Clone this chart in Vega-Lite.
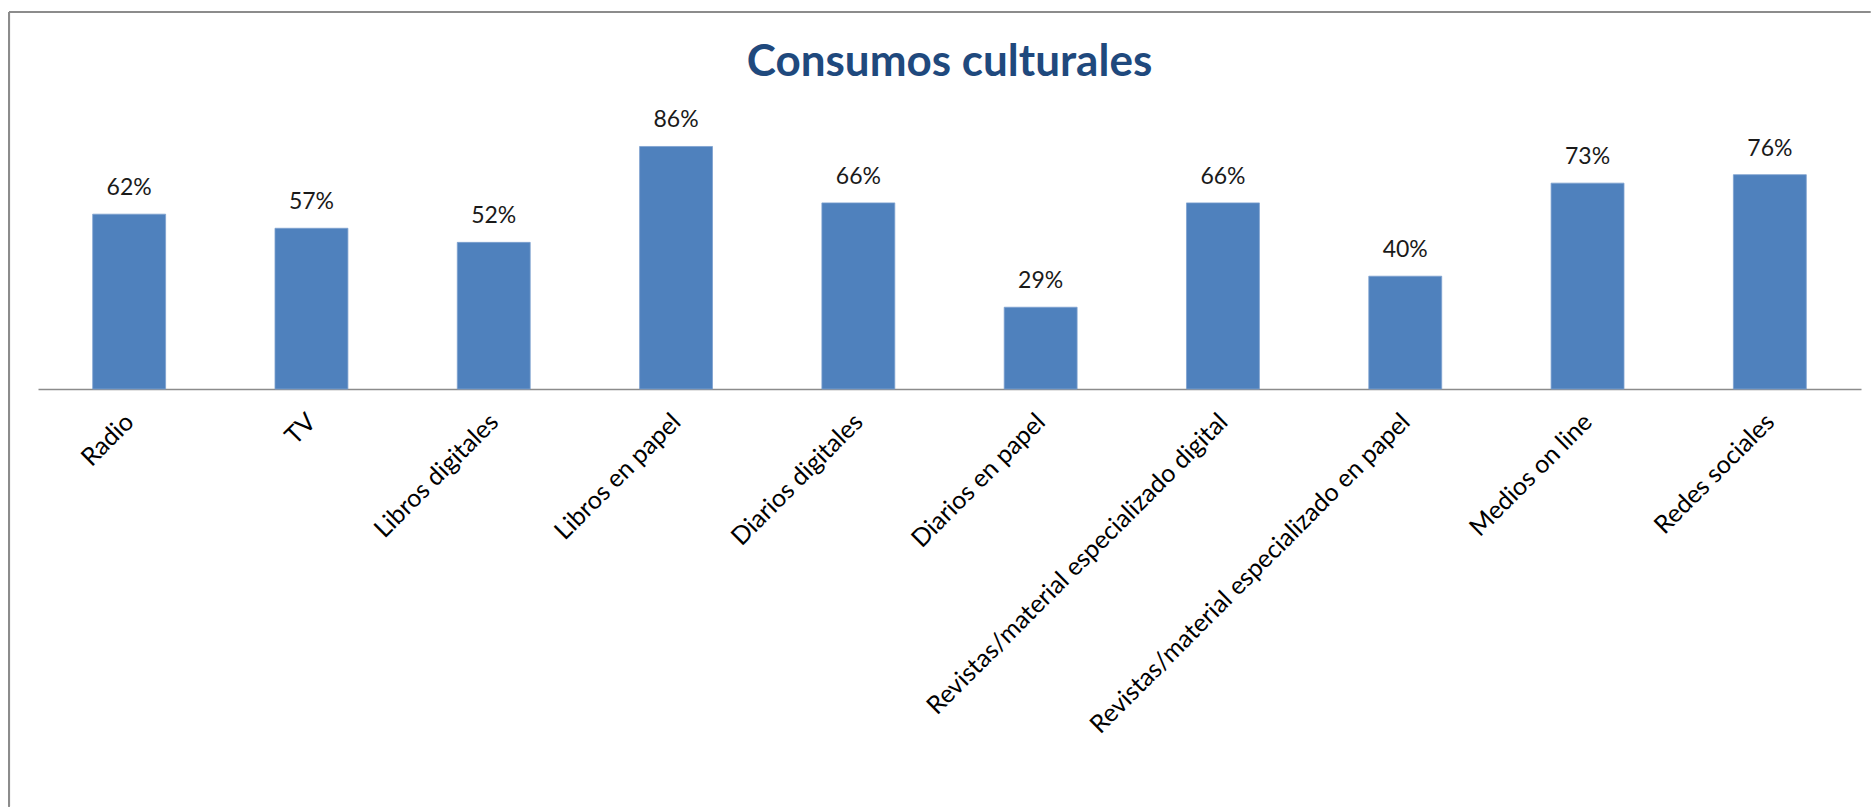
{
  "$schema": "https://vega.github.io/schema/vega-lite/v6.json",
  "width": 1823,
  "height": 282,
  "padding": {"left": 8, "top": 10, "right": 0, "bottom": 0},
  "background": "white",
  "config": {"view": {"stroke": null}},
  "title": {
    "text": "Consumos culturales",
    "font": "Lato",
    "fontWeight": "bold",
    "fontSize": 44,
    "color": "#1F497D",
    "anchor": "middle",
    "baseline": "alphabetic",
    "offset": -109
  },
  "data": {
    "values": [
      {"categoria": "Radio", "valor": 0.62},
      {"categoria": "TV", "valor": 0.57},
      {"categoria": "Libros digitales", "valor": 0.52},
      {"categoria": "Libros en papel", "valor": 0.86},
      {"categoria": "Diarios digitales", "valor": 0.66},
      {"categoria": "Diarios en papel", "valor": 0.29},
      {"categoria": "Revistas/material especializado digital", "valor": 0.66},
      {"categoria": "Revistas/material especializado en papel", "valor": 0.40},
      {"categoria": "Medios on line", "valor": 0.73},
      {"categoria": "Redes sociales", "valor": 0.76}
    ]
  },
  "layer": [
    {
      "encoding": {
        "x": {
          "field": "categoria",
          "type": "nominal",
          "sort": null,
          "scale": {"paddingInner": 0.6, "paddingOuter": 0.3},
          "axis": {
            "title": null,
            "ticks": false,
            "domainColor": "#8C8C8C",
            "domainWidth": 1.5,
            "labelAngle": -45,
            "labelAlign": "right",
            "labelBaseline": "top",
            "labelFont": "Lato",
            "labelFontSize": 25,
            "labelColor": "#000000",
            "labelPadding": 20,
            "labelOffset": -8,
            "labelLimit": 1000,
            "labelOverlap": false
          }
        },
        "y": {
          "field": "valor",
          "type": "quantitative",
          "scale": {"domain": [0, 1], "nice": false},
          "axis": null
        }
      },
      "layer": [
        {"mark": {"type": "bar", "color": "#4F81BD", "stroke": "#7EA1CF", "strokeWidth": 0.8}},
        {
          "mark": {"type": "text", "font": "Lato", "fontSize": 23, "color": "#1A1A1A", "baseline": "alphabetic", "dy": -19},
          "encoding": {"text": {"field": "valor", "type": "quantitative", "format": ".0%"}}
        }
      ]
    },
    {
      "layer": [
        {
          "mark": {"type": "rule", "color": "#8C8C8C", "strokeWidth": 2},
          "encoding": {
            "x": {"datum": -0.0159, "type": "quantitative", "scale": {"domain": [0, 1], "nice": false, "zero": false}, "axis": null},
            "y": {"datum": 1.337, "type": "quantitative", "scale": {"domain": [0, 1], "nice": false}},
            "y2": {"datum": -1.48}
          }
        },
        {
          "mark": {"type": "rule", "color": "#8C8C8C", "strokeWidth": 2},
          "encoding": {
            "x": {"datum": -0.0159, "type": "quantitative", "scale": {"domain": [0, 1], "nice": false, "zero": false}, "axis": null},
            "x2": {"datum": 1.005},
            "y": {"datum": 1.337, "type": "quantitative", "scale": {"domain": [0, 1], "nice": false}}
          }
        }
      ]
    }
  ],
  "resolve": {"scale": {"x": "independent"}}
}
